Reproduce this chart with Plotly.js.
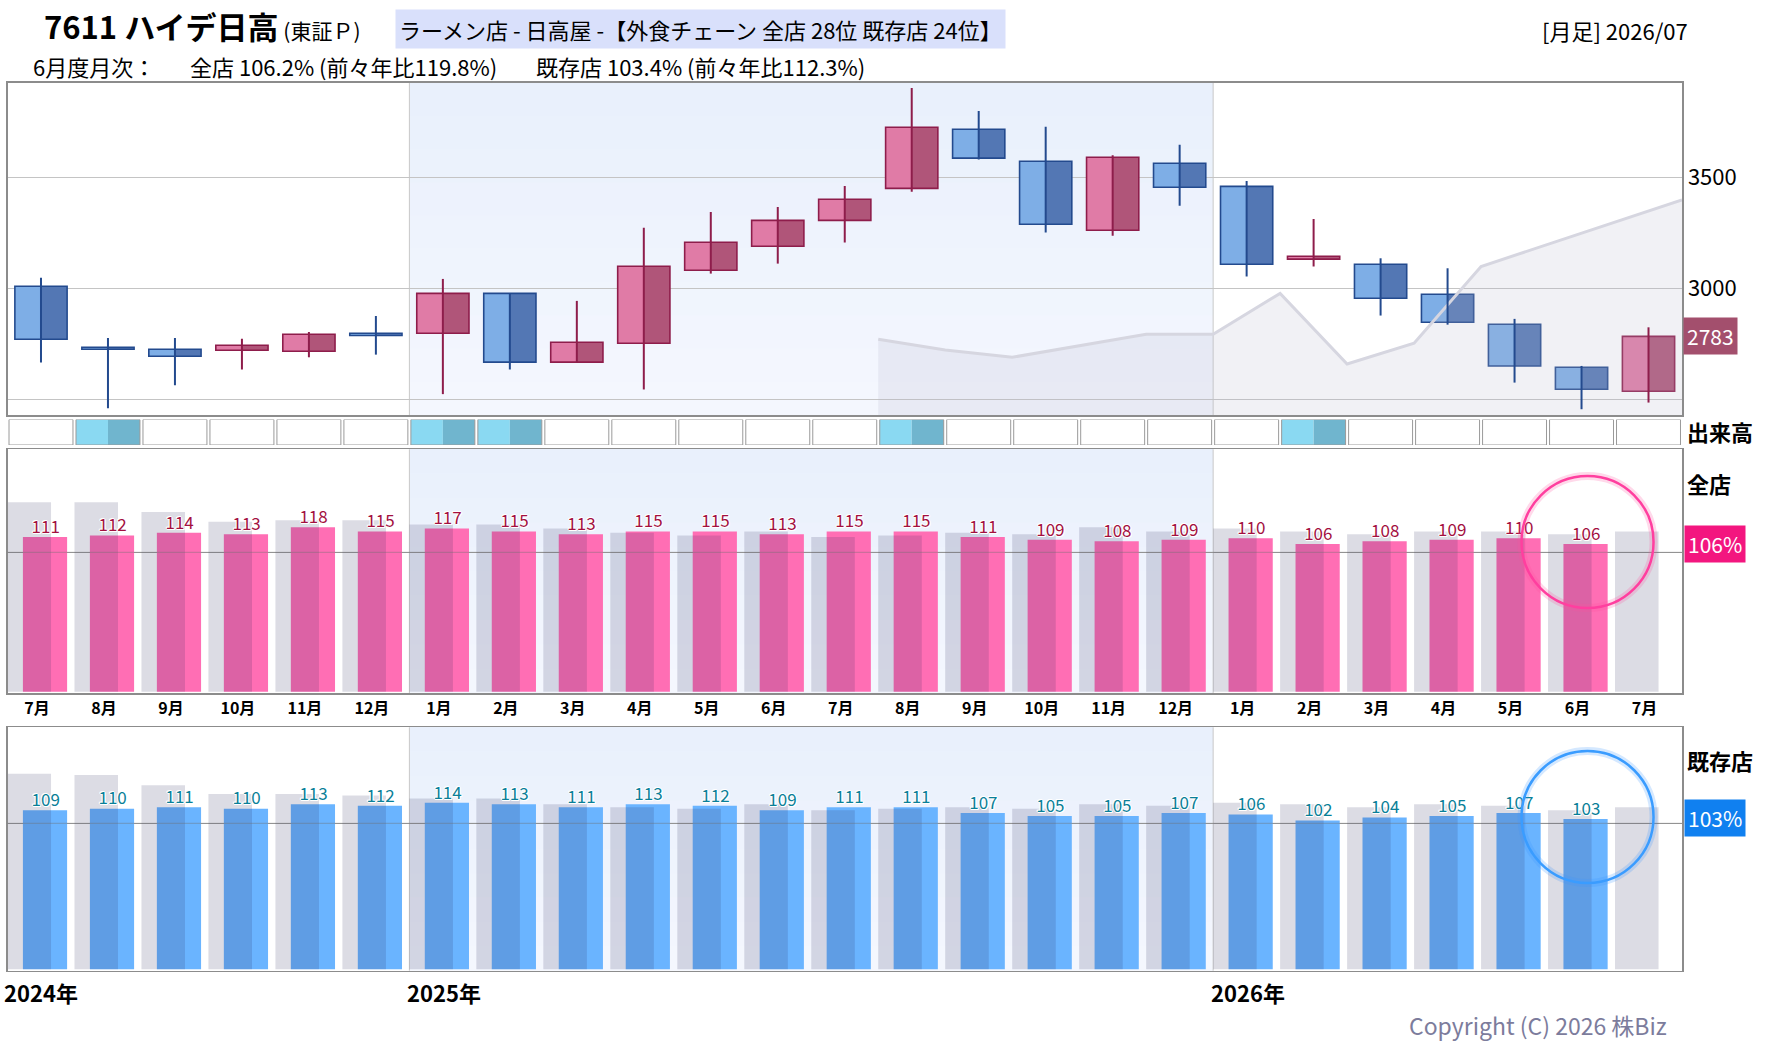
<!DOCTYPE html>
<html><head><meta charset="utf-8">
<script src="https://cdn.plot.ly/plotly-3.0.1.min.js"></script>
<style>html,body{margin:0;padding:0;background:#fff;}#chart{width:1780px;height:1054px;}</style>
</head><body><div id="chart"></div>
<script>
// ---------------- DATA ----------------
const months = ['2024/07','2024/08','2024/09','2024/10','2024/11','2024/12',
  '2025/01','2025/02','2025/03','2025/04','2025/05','2025/06','2025/07','2025/08','2025/09','2025/10','2025/11','2025/12',
  '2026/01','2026/02','2026/03','2026/04','2026/05','2026/06','2026/07'];
const openP  = [3009,2734,2725,2721,2716,2797,2797,2977,2667,2752,3081,3189,3306,3450,3716,3572,3261,3563,3459,3131,3108,2973,2838,2644,2536];
const highP  = [3047,2776,2776,2772,2803,2875,3042,2977,2943,3272,3344,3366,3461,3902,3799,3727,3599,3646,3483,3312,3135,3090,2862,2650,2824];
const lowP   = [2665,2459,2563,2634,2689,2701,2523,2634,2667,2544,3066,3111,3206,3435,3580,3251,3237,3372,3053,3098,2877,2836,2575,2455,2485];
const closeP = [2770,2725,2694,2743,2793,2787,2977,2667,2757,3099,3207,3306,3401,3725,3586,3288,3590,3455,3108,3144,2955,2847,2650,2545,2783];
// grey reference line behind the candles (value at the right edge of each month)
const shadowLine = [null,null,null,null,null,null,null,null,null,null,null,null,
  2770,2722,2689,2742,2793,2793,2977,2659,2752,3098,3198,3300,3398];
// high-volume months (1 = highlighted cell)
const volumeFlag = [0,1,0,0,0,0,1,1,0,0,0,0,0,1,0,0,0,0,0,1,0,0,0,0,0];
// 全店 YoY (%)
const allStore = [111,112,114,113,118,115,117,115,113,115,115,113,115,115,111,109,108,109,110,106,108,109,110,106,null];
const allStorePrev = [136,136,129,122,123,123,120,120,117,114,112,115]; // 2023/07-2024/06
// 既存店 YoY (%)
const existStore = [109,110,111,110,113,112,114,113,111,113,112,109,111,111,107,105,105,107,106,102,104,105,107,103,null];
const existStorePrev = [134,133,126,120,120,119,117,117,113,111,110,113]; // 2023/07-2024/06
// headline figures
const latestAll = 106.2, latestAll2y = 119.8, latestExist = 103.4, latestExist2y = 112.3;
const rankAll = 28, rankExist = 24;

// ---------------- HELPERS ----------------
const W = 1780, H = 1054;
const px = x => x / W, py = y => 1 - y / H;
const FONT = '"Noto Sans CJK JP","Noto Sans",sans-serif';
const N = months.length;
const idx = months.map((m, i) => i);
const xr = [-0.5, N - 0.5];
const xDom = [px(7.5), px(1682)];
let lastIdx = 0; allStore.forEach((v, i) => { if (v != null) lastIdx = i; });
const lastMonth = parseInt(months[lastIdx].split('/')[1]);
const janIdx = idx.filter(i => months[i].endsWith('/01'));
const prevAll = idx.map(i => i < 12 ? allStorePrev[i] : allStore[i - 12]);
const prevExist = idx.map(i => i < 12 ? existStorePrev[i] : existStore[i - 12]);

const traces = [];
// shadow area
const shIdx = idx.filter(i => shadowLine[i] != null);
traces.push({type:'scatter', mode:'lines', x: shIdx.map(i => i + 0.5), y: shIdx.map(i => shadowLine[i]),
  fill:'tozeroy', fillcolor:'rgba(185,185,205,0.2)', line:{color:'#d6d6e0', width:3}, xaxis:'x', yaxis:'y', hoverinfo:'skip'});

const upIdx = idx.filter(i => closeP[i] >= openP[i]);
const dnIdx = idx.filter(i => closeP[i] < openP[i]);
function wick(ids, color) {
  const x = [], y = [];
  ids.forEach(i => { x.push(i, i, null); y.push(lowP[i], highP[i], null); });
  return {type:'scatter', mode:'lines', x, y, line:{color, width:2}, xaxis:'x', yaxis:'y', hoverinfo:'skip'};
}
const BODY = 0.78;
function bodies(ids, light, dark, edge) {
  const base = ids.map(i => Math.min(openP[i], closeP[i]));
  const h = ids.map(i => Math.max(Math.abs(closeP[i] - openP[i]), 4));
  const common = {type:'bar', x: ids, y: h, base, xaxis:'x', yaxis:'y', hoverinfo:'skip'};
  return [
    Object.assign({}, common, {width: BODY/2, offset: -BODY/2, marker:{color: light, line:{width:0}}}),
    Object.assign({}, common, {width: BODY/2, offset: 0, marker:{color: dark, line:{width:0}}}),
    Object.assign({}, common, {width: BODY, offset: -BODY/2, marker:{color:'rgba(0,0,0,0)', line:{color: edge, width:1.6}}})
  ];
}
traces.push(wick(upIdx, '#8e1d4b'), wick(dnIdx, '#234a8e'));
traces.push(...bodies(upIdx, '#e07ba6', '#b05579', '#8e1d4b'));
traces.push(...bodies(dnIdx, '#7eaee6', '#5377b4', '#234a8e'));

// volume strip
const CELL = 0.955;
traces.push({type:'bar', x: idx, y: idx.map(() => 1), base: 0, width: CELL/2, offset: -CELL/2,
  marker:{color: volumeFlag.map(f => f ? '#8ad9f2' : '#ffffff'), line:{width:0}}, xaxis:'x2', yaxis:'y2', hoverinfo:'skip'});
traces.push({type:'bar', x: idx, y: idx.map(() => 1), base: 0, width: CELL/2, offset: 0,
  marker:{color: volumeFlag.map(f => f ? '#70b5ce' : '#ffffff'), line:{width:0}}, xaxis:'x2', yaxis:'y2', hoverinfo:'skip'});
traces.push({type:'bar', x: idx, y: idx.map(() => 1), base: 0, width: CELL, offset: -CELL/2,
  marker:{color:'rgba(0,0,0,0)', line:{color:'#9a9a9a', width:1}}, xaxis:'x2', yaxis:'y2', hoverinfo:'skip'});

// monthly YoY panels
const SHADOW = '1px 0 0 #fff, -1px 0 0 #fff, 0 1px 0 #fff, 0 -1px 0 #fff, 1px 1px 0 #fff, -1px -1px 0 #fff';
function panel(vals, prev, color, labelColor, xa, ya) {
  const ids = idx.filter(i => vals[i] != null);
  traces.push({type:'bar', x: ids, y: ids.map(i => vals[i]), base: 0, width: 0.66, offset: -0.27,
    marker:{color, line:{width:0}}, xaxis: xa, yaxis: ya, hoverinfo:'skip'});
  traces.push({type:'bar', x: idx, y: prev, base: 0, width: 0.65, offset: -0.5,
    marker:{color:'rgba(40,40,90,0.16)', line:{width:0}}, xaxis: xa, yaxis: ya, hoverinfo:'skip'});
  traces.push({type:'scatter', mode:'text', x: ids.map(i => i + 0.07), y: ids.map(i => vals[i]), text: ids.map(i => String(vals[i])),
    textposition:'top center', cliponaxis:false,
    textfont:{family: FONT, size:17, color: labelColor, shadow: SHADOW}, xaxis: xa, yaxis: ya, hoverinfo:'skip'});
}
panel(allStore, prevAll, '#ff6eb4', '#a3103f', 'x3', 'y3');
panel(existStore, prevExist, '#6ab4ff', '#0a7f98', 'x4', 'y4');

// ---------------- LAYOUT ----------------
const BORDER = {showline:true, mirror:true, linecolor:'#8c8c8c', linewidth:1.5};
function xa(extra) {
  return Object.assign({domain: xDom, range: xr, showgrid:false, zeroline:false, showticklabels:false, ticks:'', fixedrange:true}, extra);
}
const monthText = months.map(m => parseInt(m.split('/')[1]) + '月');
const layout = {
  width: W, height: H, margin:{l:0, r:0, t:0, b:0},
  paper_bgcolor:'#ffffff', plot_bgcolor:'rgba(0,0,0,0)', showlegend:false, barmode:'overlay',
  font:{family: FONT, color:'#000'},
  xaxis: xa(Object.assign({anchor:'y'}, BORDER)),
  yaxis: Object.assign({domain:[py(415), py(82.7)], range:[2429, 3926], side:'right', anchor:'x',
    tickvals:[2500, 3000, 3500], ticktext:['', '3000', '3500'], gridcolor:'#c4c4c4', gridwidth:1.2,
    zeroline:false, ticks:'', tickfont:{size:22, color:'#000'}, fixedrange:true}, BORDER),
  xaxis2: xa({anchor:'y2'}),
  yaxis2: {domain:[py(445), py(419.5)], range:[0, 1], anchor:'x2', showgrid:false, zeroline:false, showticklabels:false, fixedrange:true},
  xaxis3: xa(Object.assign({anchor:'y3', showticklabels:true, tickvals: idx, ticktext: monthText, ticklabelshift:-4,
    tickfont:{size:16, color:'#000', weight:'bold'}}, BORDER)),
  yaxis3: Object.assign({domain:[py(693.3), py(449.3)], range:[-1.15, 173.9], anchor:'x3', tickvals:[100], showticklabels:false,
    gridcolor:'#a8a8a8', zeroline:false, ticks:'', fixedrange:true}, BORDER),
  xaxis4: xa(Object.assign({anchor:'y4'}, BORDER)),
  yaxis4: Object.assign({domain:[py(970.7), py(727.3)], range:[-0.96, 165.75], anchor:'x4', tickvals:[100], showticklabels:false,
    gridcolor:'#a8a8a8', zeroline:false, ticks:'', fixedrange:true}, BORDER),
  shapes: [], annotations: []
};

// shaded year band (2025) with soft vertical gradient
const s0 = janIdx[0] - 0.5, s1 = janIdx[1] - 0.5;
[['x','y'],['x3','y3'],['x4','y4']].forEach(([xr_, yr_]) => {
  const bands = 10;
  for (let b = 0; b < bands; b++) {
    const t = b / (bands - 1);
    const r = Math.round(233 + (244 - 233) * (1 - t)), g = Math.round(240 + (247 - 240) * (1 - t)), bl = Math.round(252 + (254 - 252) * (1 - t));
    layout.shapes.push({type:'rect', layer:'below', xref: xr_, yref: yr_ + ' domain', x0: s0, x1: s1,
      y0: b / bands, y1: (b + 1) / bands + 0.002, fillcolor:`rgb(${r},${g},${bl})`, line:{width:0}});
  }
  [s0, s1].forEach(xv => layout.shapes.push({type:'line', layer:'below', xref: xr_, yref: yr_ + ' domain', x0: xv, x1: xv, y0: 0, y1: 1,
    line:{color:'#c8c8c8', width:1}}));
});
// 100% reference line over the bars
['y3','y4'].forEach(yr_ => layout.shapes.push({type:'line', layer:'above', xref:'paper', yref: yr_, x0: xDom[0], x1: xDom[1], y0: 100, y1: 100,
  line:{color:'rgba(110,110,110,0.45)', width:1}}));

// highlight circles on latest month
function ring(xref, yref, yv, color, glow) {
  const base = {type:'circle', xref, yref, xsizemode:'pixel', ysizemode:'pixel', xanchor: lastIdx, yanchor: yv,
    x0: -60, x1: 72, y0: -64, y1: 68, fillcolor:'rgba(0,0,0,0)', layer:'above'};
  layout.shapes.push(Object.assign({}, base, {line:{color: glow, width:8}}));
  layout.shapes.push(Object.assign({}, base, {line:{color, width:2.5}}));
}
ring('x3', 'y3', allStore[lastIdx], '#ff3f9f', 'rgba(255,80,160,0.22)');
ring('x4', 'y4', existStore[lastIdx], '#3a9cff', 'rgba(60,150,255,0.22)');

const A = layout.annotations;
function note(o) { A.push(Object.assign({showarrow:false, font:{family: FONT, size:22, color:'#000'}}, o)); }
note({xref:'paper', yref:'paper', x: px(42), y: py(26), xanchor:'left', yanchor:'middle',
  text:'<b>7611 ハイデ日高</b><span style="font-size:21px"> (東証Ｐ)</span>', font:{family: FONT, size:31, color:'#000'}});
note({xref:'paper', yref:'paper', x: px(395), y: py(28.6), xanchor:'left', yanchor:'middle', bgcolor:'#d9e0fb', borderpad:3,
  text:`ラーメン店 - 日高屋 -【外食チェーン 全店 ${rankAll}位 既存店 ${rankExist}位】`});
// subtitle in three segments
note({xref:'paper', yref:'paper', x: px(31), y: py(66), xanchor:'left', yanchor:'middle', text:`${lastMonth}月度月次：`});
note({xref:'paper', yref:'paper', x: px(188), y: py(66), xanchor:'left', yanchor:'middle',
  text:`全店 ${latestAll.toFixed(1)}% (前々年比${latestAll2y.toFixed(1)}%)`});
note({xref:'paper', yref:'paper', x: px(534), y: py(66), xanchor:'left', yanchor:'middle',
  text:`既存店 ${latestExist.toFixed(1)}% (前々年比${latestExist2y.toFixed(1)}%)`});
note({xref:'paper', yref:'paper', x: px(1690), y: py(30), xanchor:'right', yanchor:'middle',
  text:`[月足] ${months[N - 1]}`});
// right side labels
note({xref:'paper', yref:'paper', x: px(1685), y: py(431), xanchor:'left', yanchor:'middle', text:'<b>出来高</b>'});
note({xref:'paper', yref:'paper', x: px(1685), y: py(483), xanchor:'left', yanchor:'middle', text:'<b>全店</b>'});
note({xref:'paper', yref:'paper', x: px(1685), y: py(760), xanchor:'left', yanchor:'middle', text:'<b>既存店</b>'});
note({xref:'paper', yref:'y', x: px(1683), y: closeP[N - 1], xanchor:'left', yanchor:'middle', bgcolor:'#a34f6d', borderpad:3,
  text: String(closeP[N - 1]), font:{family: FONT, size:21, color:'#fff'}});
note({xref:'paper', yref:'y3', x: px(1684), y: latestAll, xanchor:'left', yanchor:'middle', bgcolor:'#f3167f', borderpad:3,
  text: Math.round(latestAll) + '%', font:{family: FONT, size:21, color:'#fff'}});
note({xref:'paper', yref:'y4', x: px(1684), y: latestExist, xanchor:'left', yanchor:'middle', bgcolor:'#1080f0', borderpad:3,
  text: Math.round(latestExist) + '%', font:{family: FONT, size:21, color:'#fff'}});
// year labels
[0].concat(janIdx).forEach(i => note({xref:'x4', yref:'paper', x: i - 0.5 + 0.001, xshift: i === 0 ? -6 : -4, y: py(992),
  xanchor:'left', yanchor:'middle', text:'<b>' + months[i].split('/')[0] + '年</b>', font:{family: FONT, size:22, color:'#000'}}));
note({xref:'paper', yref:'paper', x: px(1669), y: py(1025), xanchor:'right', yanchor:'middle',
  text:'Copyright (C) 2026 株Biz', font:{family: FONT, size:23, color:'#7c7c9c'}});

Plotly.newPlot('chart', traces, layout, {staticPlot:true, displayModeBar:false});
</script></body></html>
